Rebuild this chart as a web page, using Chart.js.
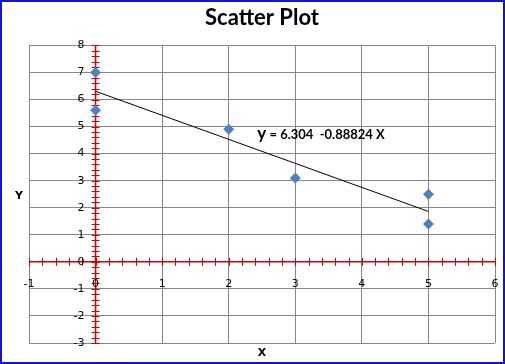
<!DOCTYPE html>
<html>
<head>
<meta charset="utf-8">
<script src="https://cdn.jsdelivr.net/npm/chart.js@4"></script>
<style>
  html, body { margin: 0; padding: 0; background: #fff; }
  #wrap { width: 505px; height: 364px; }
</style>
</head>
<body>
<div id="wrap"><canvas id="myChart" width="505" height="364"></canvas></div>
<script>
const xValues = [0, 0, 2, 3, 5, 5];
const yValues = [7, 5.6, 4.9, 3.1, 2.5, 1.4];
const xTicks = [-1, 0, 1, 2, 3, 4, 5, 6];
const yTicks = [-3, -2, -1, 0, 1, 2, 3, 4, 5, 6, 7, 8];
const intercept = 6.304;
const slope = -0.88824;
const trendX = [0, 5];

const points = xValues.map((x, i) => ({ x: x, y: yValues[i] }));
const trend = trendX.map(x => ({ x: x, y: intercept + slope * x }));

const RED = '#d40000';
const GRID = '#868686';

// red axes through zero with minor ticks, excel style
const crossAxes = {
    id: 'crossAxes',
    beforeDatasetsDraw(chart) {
        const ctx = chart.ctx;
        const sx = chart.scales.x, sy = chart.scales.y;
        const x0 = sx.getPixelForValue(0), y0 = sy.getPixelForValue(0);
        ctx.save();
        ctx.strokeStyle = RED;
        ctx.lineWidth = 1.5;
        ctx.beginPath();
        ctx.moveTo(sx.left, y0); ctx.lineTo(sx.right, y0);
        ctx.moveTo(x0, sy.top); ctx.lineTo(x0, sy.bottom);
        ctx.stroke();
        ctx.lineWidth = 1;
        ctx.beginPath();
        for (let v = sx.min * 5; v <= sx.max * 5; v++) {
            const px = Math.round(sx.getPixelForValue(v / 5)) + 0.5;
            ctx.moveTo(px, y0 - 4); ctx.lineTo(px, y0 + 4);
        }
        for (let v = sy.min * 5; v <= sy.max * 5; v++) {
            const py = Math.round(sy.getPixelForValue(v / 5)) + 0.5;
            ctx.moveTo(x0 - 4, py); ctx.lineTo(x0 + 4, py);
        }
        ctx.stroke();
        ctx.restore();
    },
    afterDraw(chart) {
        const ctx = chart.ctx;
        const sx = chart.scales.x, sy = chart.scales.y;
        const x0 = sx.getPixelForValue(0), y0 = sy.getPixelForValue(0);
        ctx.save();
        ctx.fillStyle = '#000';
        ctx.font = '11px "DejaVu Sans"';
        ctx.textBaseline = 'middle';
        ctx.textAlign = 'right';
        yTicks.forEach(v => ctx.fillText(String(v), x0 - 11, sy.getPixelForValue(v)));
        ctx.textAlign = 'center';
        xTicks.forEach(v => ctx.fillText(String(v), sx.getPixelForValue(v), y0 + 22));

        // axis titles
        ctx.font = 'bold 11px "DejaVu Sans"';
        ctx.fillText('Y', 19, (sy.top + sy.bottom) / 2 + 2);
        ctx.fillText('X', (sx.left + sx.right) / 2, 353);

        // trendline equation
        ctx.textAlign = 'left';
        ctx.textBaseline = 'alphabetic';
        const ex = sx.getPixelForValue(2.43), ey = sy.getPixelForValue(4.53);
        ctx.font = 'bold 17px Lato';
        ctx.fillText('y', ex, ey);
        const w = ctx.measureText('y').width;
        ctx.font = 'bold 13px Lato';
        ctx.fillText(' = ' + intercept + '  ' + slope + ' X', ex + w, ey);

        // outer frame
        ctx.strokeStyle = '#1414c8';
        ctx.lineWidth = 2;
        ctx.strokeRect(1, 1, chart.width - 2, chart.height - 2);
        ctx.restore();
    }
};

new Chart(document.getElementById('myChart'), {
    type: 'scatter',
    data: {
        datasets: [
            {
                label: 'Data',
                data: points,
                pointStyle: 'rectRot',
                pointRadius: 5.5,
                backgroundColor: '#4f81bd',
                borderColor: '#4f81bd',
                borderWidth: 0,
                order: 1
            },
            {
                label: 'Trend',
                type: 'line',
                data: trend,
                borderColor: '#000',
                borderWidth: 1,
                pointRadius: 0,
                fill: false,
                order: 2
            }
        ]
    },
    options: {
        responsive: false,
        devicePixelRatio: 1,
        animation: false,
        layout: { padding: { left: 29, right: 10, top: 0, bottom: 21 } },
        plugins: {
            legend: { display: false },
            tooltip: { enabled: false },
            title: {
                display: true,
                text: 'Scatter Plot',
                color: '#000',
                font: { family: 'Lato', size: 22, weight: 'bold' },
                padding: { top: 5, bottom: 14 }
            }
        },
        scales: {
            x: {
                type: 'linear',
                min: -1, max: 6,
                ticks: { display: false, stepSize: 1 },
                grid: { color: GRID, drawTicks: false, lineWidth: 1 },
                border: { display: false }
            },
            y: {
                type: 'linear',
                min: -3, max: 8,
                ticks: { display: false, stepSize: 1 },
                grid: { color: GRID, drawTicks: false, lineWidth: 1 },
                border: { display: false }
            }
        }
    },
    plugins: [crossAxes]
});
</script>
</body>
</html>
